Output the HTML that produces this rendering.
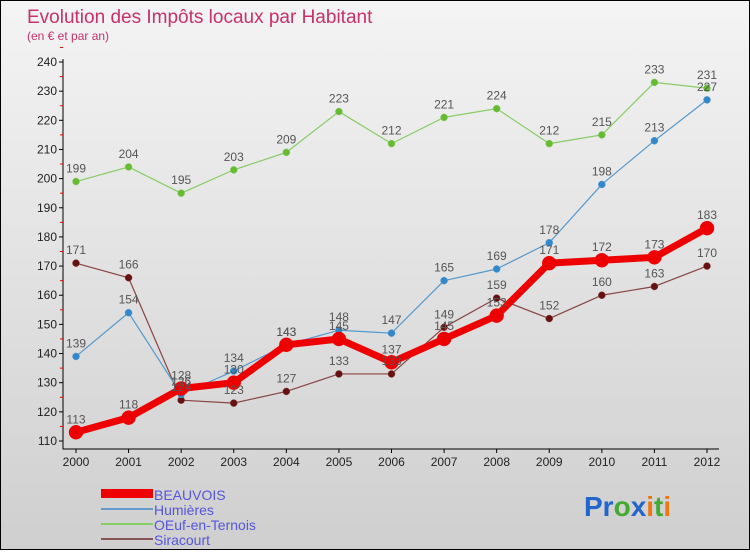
<!DOCTYPE html>
<html><head><meta charset="utf-8"><style>
body{margin:0;width:750px;height:550px;overflow:hidden;font-family:"Liberation Sans",sans-serif}
#wrap{position:absolute;left:0;top:0;width:748px;height:548px;border:1px solid #000;background:linear-gradient(#f4f4f4,#cfcfcf)}
</style></head><body>
<div id="wrap">
<svg id="chart" width="748" height="548" font-family="Liberation Sans, sans-serif">
<text x="26" y="22" font-size="19" fill="#c8306a">Evolution des Impôts locaux par Habitant</text>
<text x="26" y="39" font-size="12" fill="#c8306a">(en € et par an)</text>
<g id="grid"></g><g id="series"></g><g id="labels"></g>
<g font-size="14" fill="#5555dd">
<rect x="100" y="488" width="52" height="9" fill="#ee0000"/>
<text x="153" y="499">BEAUVOIS</text>
<rect x="100" y="507" width="52" height="2" fill="#6699cc"/>
<text x="153" y="514">Humières</text>
<rect x="100" y="522" width="52" height="2" fill="#88cc66"/>
<text x="153" y="529">OEuf-en-Ternois</text>
<rect x="100" y="537" width="52" height="2" fill="#885555"/>
<text x="153" y="544">Siracourt</text>
</g>
<g font-size="28" font-weight="bold">
<text x="583" y="515"><tspan fill="#2266cc">Pr</tspan><tspan fill="#44aa33">o</tspan><tspan fill="#2266cc">x</tspan><tspan fill="#ee7711">i</tspan><tspan fill="#44aa33">t</tspan><tspan fill="#ee7711">i</tspan></text>
</g>
</svg></div>
<script>
const years=[2000,2001,2002,2003,2004,2005,2006,2007,2008,2009,2010,2011,2012];
const yTicks=[110,120,130,140,150,160,170,180,190,200,210,220,230,240];
const beauvois=[113,118,128,130,143,145,137,145,153,171,172,173,183];
const humieres=[139,154,126,134,143,148,147,165,169,178,198,213,227];
const oeuf=[199,204,195,203,209,223,212,221,224,212,215,233,231];
const siracourt=[171,166,124,123,127,133,133,149,159,152,160,163,170];
const NS="http://www.w3.org/2000/svg";
const X=i=>75+i*(706-75)/(years.length-1);
const Y=v=>440-(v-110)*(440-61)/130;
function mk(t,a,p){const e=document.createElementNS(NS,t);for(const k in a)e.setAttribute(k,a[k]);p.appendChild(e);return e;}
const grid=document.getElementById('grid');
const ax=mk('path',{d:'M62,58V448H718',stroke:'#000',fill:'none','stroke-width':1},grid);


yTicks.forEach(v=>{
 mk('line',{x1:58,x2:62,y1:Y(v),y2:Y(v),stroke:'#000'},grid);
 mk('line',{x1:59,x2:62,y1:Y(v+5),y2:Y(v+5),stroke:'#e00'},grid);
 const t=mk('text',{x:56,y:Y(v)+4,'text-anchor':'end','font-size':12,fill:'#222'},grid);
 
 
 t.textContent=v;
});
years.forEach((y,i)=>{
 mk('line',{x1:X(i),x2:X(i),y1:448,y2:452,stroke:'#000'},grid);
 const t=mk('text',{x:X(i),y:465,'text-anchor':'middle','font-size':12,fill:'#222'},grid);
 
 
 t.textContent=y;
});
const sg=document.getElementById('series'),lg=document.getElementById('labels');
function draw(data,name,color,dot,w,r){
 const g=mk('g',{},sg);
 
 
 mk('polyline',{points:data.map((v,i)=>X(i)+','+Y(v)).join(' '),fill:'none',stroke:color,'stroke-width':w,'stroke-linejoin':'round'},g);
 data.forEach((v,i)=>{
  const c=mk('circle',{cx:X(i),cy:Y(v),r:r,fill:dot,stroke:color,'stroke-width':0.5},g);
  
  
  const t=mk('text',{x:X(i),y:Y(v)-9,'text-anchor':'middle','font-size':12,fill:'#555'},lg);
  
  
  t.textContent=v;
 });
}
draw(oeuf,'oeuf','#88cc66','#66bb33',1.2,3.5);
draw(siracourt,'siracourt','#884444','#661111',1.2,3.5);
draw(humieres,'humieres','#5599cc','#3388cc',1.2,3.5);
draw(beauvois,'beauvois','#ee0000','#ee0000',7,7);
</script>
</body></html>
